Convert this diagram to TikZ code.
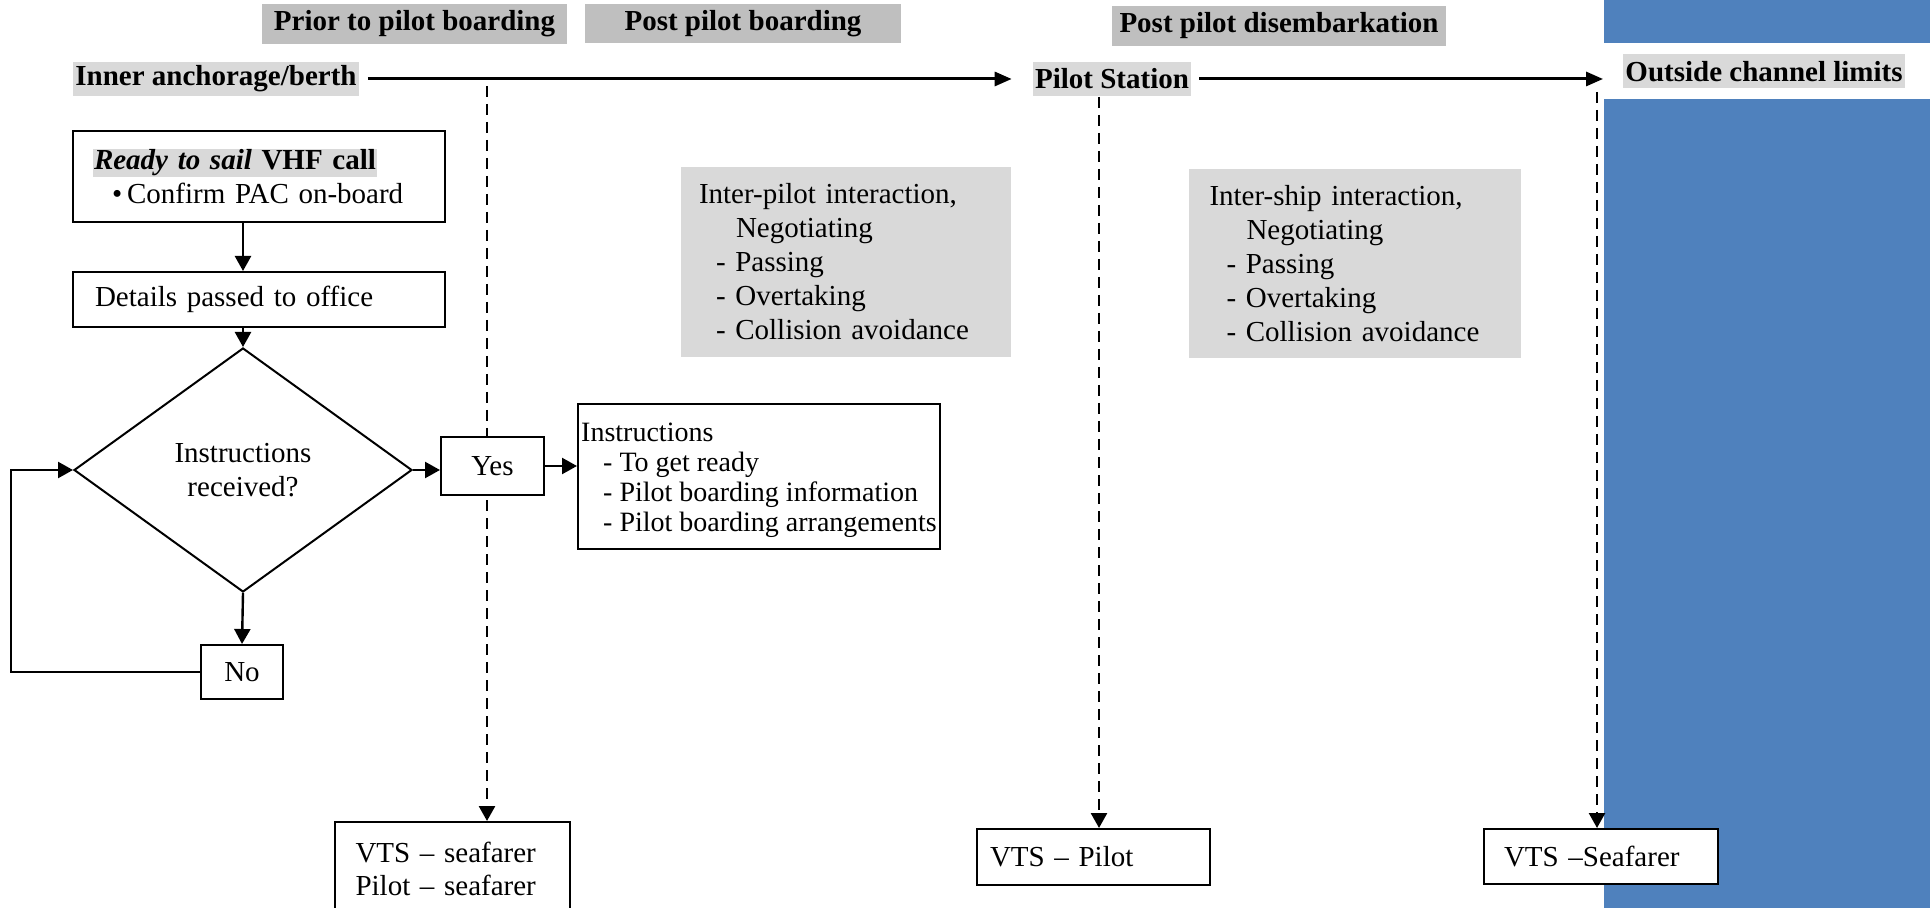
\documentclass[tikz,border=0pt]{standalone}
\usepackage{fontspec}
\setmainfont{Liberation Serif}
\usetikzlibrary{shapes.geometric,arrows.meta}
\definecolor{hdrgray}{RGB}{191,191,191}
\definecolor{lblgray}{RGB}{217,217,217}
\definecolor{boxgray}{RGB}{217,217,217}
\definecolor{sideblue}{RGB}{79,129,189}
\begin{document}
\begin{tikzpicture}[x=0.5pt,y=-0.5pt,
  every node/.style={font=\fontsize{14.5}{17}\selectfont},
  hdr/.style={fill=hdrgray, font=\fontsize{14.5}{17}\selectfont\bfseries, inner sep=0pt},
  lbl/.style={fill=lblgray, font=\fontsize{14.5}{17}\selectfont\bfseries, inner xsep=1pt, inner ysep=0pt, minimum height=17pt},
  box/.style={draw, line width=1pt, fill=white, inner ysep=0pt},
  gbox/.style={fill=boxgray, inner ysep=0pt, align=left},
  tip/.style={-{Triangle[length=7.5pt,width=8pt]}},
  mainarr/.style={-{Triangle[length=8.5pt,width=7pt]}, line width=1.5pt},
  flow/.style={tip, line width=1.2pt},
  dsh/.style={tip, line width=1.3pt, dash pattern=on 5.5pt off 3.5pt},
]
\fill[white] (0,0) rectangle (1930,908);
\useasboundingbox (0,0) rectangle (1930,908);
\clip (0,0) rectangle (1930,908);

% blue side band
\fill[sideblue] (1604,0) rectangle (1930,43);
\fill[sideblue] (1604,99) rectangle (1930,908);

% phase headers
\node[hdr, minimum width=152.5pt, minimum height=20pt] (h1) at (414.5,24) {Prior to pilot boarding};
\node[hdr, minimum width=158pt, minimum height=19.5pt] (h2) at (743,23.5) {Post pilot boarding};
\node[hdr, minimum width=167pt, minimum height=20pt] (h3) at (1279,26) {Post pilot disembarkation};

% location labels
\node[lbl] (inner) at (216,79) {Inner anchorage/berth};
\node[lbl] (pst) at (1112,79) {Pilot Station};
\node[lbl] (out) at (1764,71.5) {Outside channel limits};

\draw[mainarr, shorten <=4.5pt, shorten >=10.5pt] (inner.east) -- (pst.west);
\draw[mainarr, shorten <=4pt, shorten >=10pt] (pst.east) -- (pst.east -| out.west);

% bottom communication boxes
\node[box, minimum height=47pt, text width=96.5pt, inner xsep=10.5pt, align=left, font=\fontsize{14.5}{16.5}\selectfont] (vts1) at (452,869) {VTS – seafarer\\Pilot – seafarer};
\node[box, minimum height=28pt, text width=103.5pt, inner xsep=6.5pt, align=left] (vts2) at (1093.5,857) {VTS – Pilot};
\node[box, minimum height=27.5pt, text width=97pt, inner xsep=10pt, align=left] (vts3) at (1601,856.5) {VTS –Seafarer};

% dashed drop lines
\coordinate (d1) at (487,86);
\coordinate (d2) at (1099,97);
\coordinate (d3) at (1597,92);
\draw[dsh] (d1) -- (d1 |- vts1.north);
\draw[dsh] (d2) -- (d2 |- vts2.north);
\draw[dsh] (d3) -- (d3 |- vts3.north);

% flowchart
\node[box, minimum height=45.5pt, text width=166pt, inner xsep=10pt, align=left] (ready) at (259,176.5)
  {{\setlength{\fboxsep}{0.5pt}\colorbox{lblgray}{\textbf{\textit{Ready to sail}} \textbf{VHF call}}}\\\hspace*{9.5pt}\textbullet\hspace{2.5pt}Confirm PAC on-board};
\node[box, minimum height=27.5pt, text width=164pt, inner xsep=11pt, align=left] (det) at (259,299.5) {Details passed to office};
\node[draw, line width=1pt, diamond, aspect=1.385, minimum width=169pt, minimum height=122pt, inner sep=0pt, align=center, fill=white] (dia) at (243,470) {Instructions\\received?};
\node[box, minimum width=51.5pt, minimum height=28.5pt] (yes) at (492.5,466) {Yes};
\node[box, minimum width=181pt, minimum height=72.5pt, inner xsep=1pt, align=left, font=\fontsize{14}{15}\selectfont] (ins) at (759,476.5)
  {\rule{0pt}{13.5pt}Instructions\\\hspace*{11pt}- To get ready\\\hspace*{11pt}- Pilot boarding information\\\hspace*{11pt}- Pilot boarding arrangements};
\node[box, minimum width=41pt, minimum height=27pt] (no) at (242,672) {No};

\draw[flow] (dia.north |- ready.south) -- (dia.north |- det.north);
\draw[flow] (dia.north |- det.south) -- (dia.north);
\draw[flow] (dia.east) -- (dia.east -| yes.west);
\draw[flow] (yes.east) -- (yes.east -| ins.west);
\draw[flow] (dia.south) -- (no.north);
\coordinate (lp) at (11,672);
\draw[flow] (no.west) -- (lp) |- (dia.west);

% interaction boxes
\node[gbox, minimum height=95pt, text width=147pt, inner xsep=9pt] (ipi) at (846,262)
  {Inter-pilot interaction,\\\hspace*{18.5pt}Negotiating\\\hspace*{8.5pt}- Passing\\\hspace*{8.5pt}- Overtaking\\\hspace*{8.5pt}- Collision avoidance};
\node[gbox, minimum height=94.5pt, text width=145pt, inner xsep=10.5pt] (isi) at (1354.5,263.5)
  {Inter-ship interaction,\\\hspace*{18.5pt}Negotiating\\\hspace*{8.5pt}- Passing\\\hspace*{8.5pt}- Overtaking\\\hspace*{8.5pt}- Collision avoidance};
\end{tikzpicture}
\end{document}
